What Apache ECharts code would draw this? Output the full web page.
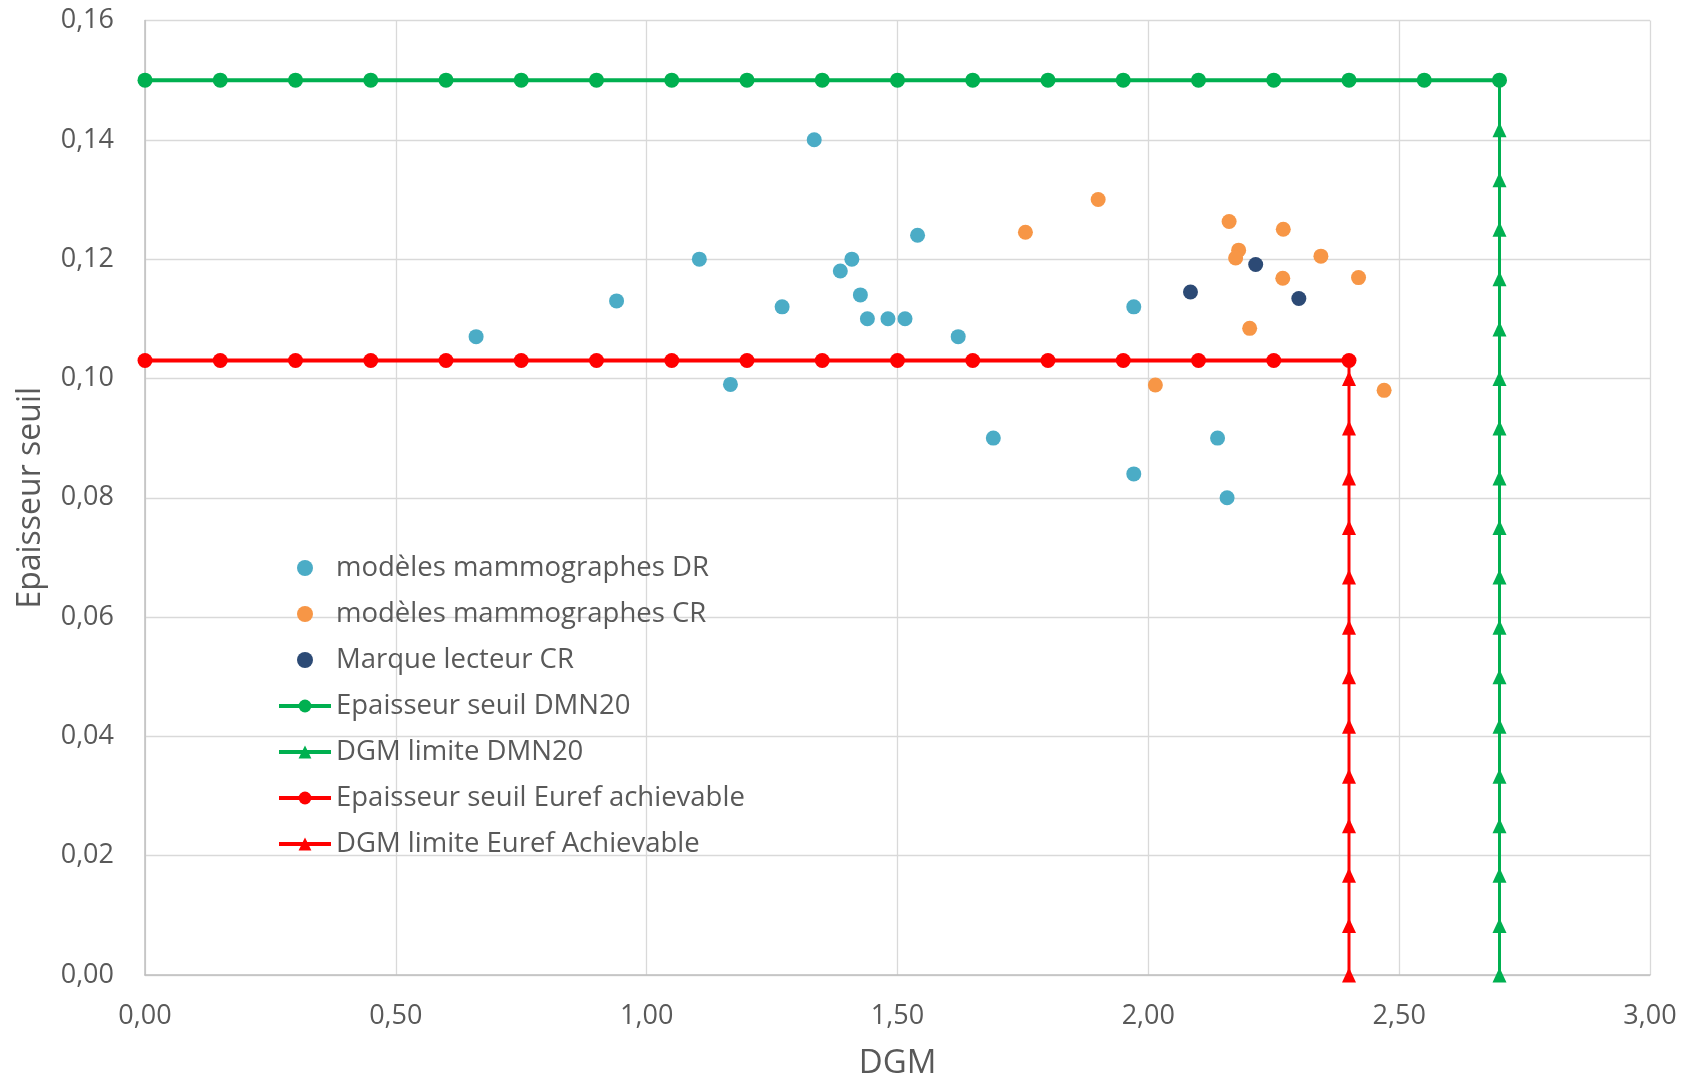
<!DOCTYPE html>
<html>
<head>
<meta charset="utf-8">
<script src="https://cdn.jsdelivr.net/npm/echarts@6/dist/echarts.min.js"></script>
<style>
html,body{margin:0;padding:0;background:#ffffff;}
#chart{width:1688px;height:1076px;}
</style>
</head>
<body>
<div id="chart"></div>
<script>
// ---- data ----
const drX = [0.66, 0.94, 1.105, 1.167, 1.27, 1.334, 1.386, 1.409, 1.426, 1.44, 1.481, 1.515, 1.54, 1.621, 1.691, 1.971, 1.971, 2.138, 2.157];
const drY = [0.107, 0.113, 0.120, 0.099, 0.112, 0.140, 0.118, 0.120, 0.114, 0.110, 0.110, 0.110, 0.124, 0.107, 0.090, 0.112, 0.084, 0.090, 0.080];

const crX = [1.755, 1.900, 2.161, 2.269, 2.180, 2.174, 2.344, 2.268, 2.419, 2.202, 2.014, 2.470];
const crY = [0.1245, 0.130, 0.1263, 0.125, 0.1215, 0.1202, 0.1205, 0.1168, 0.1169, 0.1084, 0.0989, 0.098];

const lecteurX = [2.084, 2.214, 2.300];
const lecteurY = [0.1145, 0.1191, 0.1134];

// Epaisseur seuil DMN20 (horizontal, y = 0.15)
const seuilDMN20Level = 0.15;
const seuilDMN20X = [0, 0.15, 0.30, 0.45, 0.60, 0.75, 0.90, 1.05, 1.20, 1.35, 1.50, 1.65, 1.80, 1.95, 2.10, 2.25, 2.40, 2.55, 2.70];

// DGM limite DMN20 (vertical, x = 2.70)
const limiteDMN20Level = 2.70;
const limiteDMN20Y = [0, 0.0083, 0.0167, 0.025, 0.0333, 0.0417, 0.05, 0.0583, 0.0667, 0.075, 0.0833, 0.0917, 0.10, 0.1083, 0.1167, 0.125, 0.1333, 0.1417, 0.15];

// Epaisseur seuil Euref achievable (horizontal, y = 0.103)
const seuilEurefLevel = 0.103;
const seuilEurefX = [0, 0.15, 0.30, 0.45, 0.60, 0.75, 0.90, 1.05, 1.20, 1.35, 1.50, 1.65, 1.80, 1.95, 2.10, 2.25, 2.40];

// DGM limite Euref Achievable (vertical, x = 2.40)
const limiteEurefLevel = 2.40;
const limiteEurefY = [0, 0.0083, 0.0167, 0.025, 0.0333, 0.0417, 0.05, 0.0583, 0.0667, 0.075, 0.0833, 0.0917, 0.10, 0.103];

const seriesNames = [
  'modèles mammographes DR',
  'modèles mammographes CR',
  'Marque lecteur CR',
  'Epaisseur seuil DMN20',
  'DGM limite DMN20',
  'Epaisseur seuil Euref achievable',
  'DGM limite Euref Achievable'
];

// ---- build ----
const zip = (xs, ys) => xs.map((x, i) => [x, ys[i]]);
const horiz = (xs, level) => xs.map(x => [x, level]);
const vert = (ys, level) => ys.map((y, i) => i === ys.length - 1 ? {value: [level, y], symbol: 'none'} : [level, y]);
const fmt = v => v.toFixed(2).replace('.', ',');

const FONT = 'Open Sans';
const TXT = '#595959';

const chart = echarts.init(document.getElementById('chart'), null, {renderer: 'canvas'});

const scatterStyle = (name, color, data) => ({
  name, type: 'scatter', data, symbol: 'circle', symbolSize: 15,
  itemStyle: {color, opacity: 1}, animation: false
});

const lineStyleS = (name, color, data, symbol, size, width) => ({
  name, type: 'line', data, symbol, symbolSize: size, showSymbol: true,
  lineStyle: {color, width}, itemStyle: {color},
  animation: false
});

chart.setOption({
  backgroundColor: '#ffffff',
  animation: false,
  textStyle: {fontFamily: FONT},
  grid: {left: 145, right: 38, top: 20.5, bottom: 101, containLabel: false, outerBoundsMode: 'none'},
  legend: {
    orient: 'vertical', left: 272, top: 548,
    itemWidth: 52, itemHeight: 16, itemGap: 16,
    textStyle: {fontFamily: FONT, fontSize: 27.5, color: TXT, lineHeight: 30},
    lineStyle: {width: 4},
    data: seriesNames,
    selectedMode: false
  },
  xAxis: {
    type: 'value', min: 0, max: 3, interval: 0.5,
    name: 'DGM', nameLocation: 'middle', nameGap: 72,
    nameTextStyle: {fontFamily: FONT, fontSize: 33, color: TXT},
    axisLine: {show: true, lineStyle: {color: '#BFBFBF', width: 1.5}},
    axisTick: {show: false},
    axisLabel: {formatter: fmt, fontFamily: FONT, fontSize: 27, color: TXT, margin: 28},
    splitLine: {show: true, lineStyle: {color: '#D9D9D9', width: 1.3}}
  },
  yAxis: {
    type: 'value', min: 0, max: 0.16, interval: 0.02,
    name: 'Epaisseur seuil', nameLocation: 'middle', nameGap: 98,
    nameTextStyle: {fontFamily: FONT, fontSize: 32, color: TXT},
    axisLine: {show: true, lineStyle: {color: '#BFBFBF', width: 1.5}},
    axisTick: {show: false},
    axisLabel: {formatter: fmt, fontFamily: FONT, fontSize: 27, color: TXT, margin: 31},
    splitLine: {show: true, lineStyle: {color: '#D9D9D9', width: 1.3}}
  },
  series: [
    scatterStyle(seriesNames[0], '#4BACC6', zip(drX, drY)),
    scatterStyle(seriesNames[1], '#F79646', zip(crX, crY)),
    scatterStyle(seriesNames[2], '#2C4A75', zip(lecteurX, lecteurY)),
    lineStyleS(seriesNames[3], '#00B050', horiz(seuilDMN20X, seuilDMN20Level), 'circle', 15, 4),
    lineStyleS(seriesNames[4], '#00B050', vert(limiteDMN20Y, limiteDMN20Level), 'triangle', [14, 15], 3),
    lineStyleS(seriesNames[5], '#FF0000', horiz(seuilEurefX, seuilEurefLevel), 'circle', 15, 4),
    lineStyleS(seriesNames[6], '#FF0000', vert(limiteEurefY, limiteEurefLevel), 'triangle', [14, 15], 3)
  ]
});
</script>
</body>
</html>
